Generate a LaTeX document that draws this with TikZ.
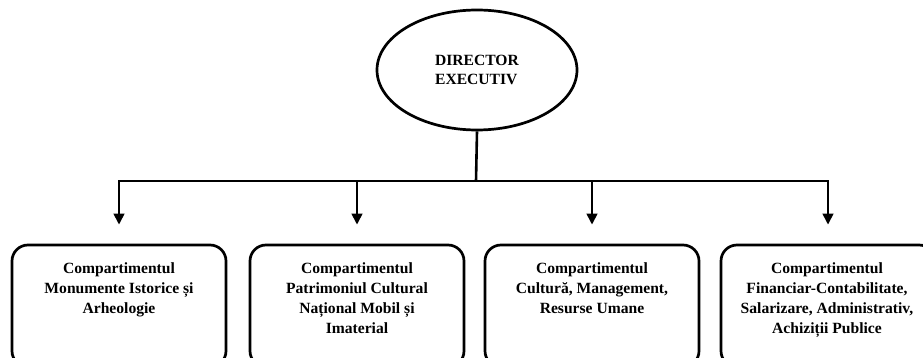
\documentclass[tikz,border=0pt]{standalone}
\usepackage{fontspec}
\setmainfont{Liberation Serif}
\usetikzlibrary{shapes.geometric,arrows.meta}
\tikzset{
  boxnode/.style={draw, line width=2.7pt, rounded corners=16pt, minimum width=214pt, minimum height=122pt, inner sep=0pt},
  boxtext/.style={align=center, font=\bfseries\fontsize{15.6}{20}\selectfont, inner sep=0pt, anchor=north},
  conn/.style={line width=2.6pt},
  arr/.style={conn, -{Triangle[length=11pt,width=10.5pt]}, shorten >=19pt}
}
\begin{document}
\begin{tikzpicture}[x=1pt,y=-1pt]
\useasboundingbox (0,0) rectangle (923,358);
\fill[white] (0,0) rectangle (923,358);
\node[draw, ellipse, line width=2.7pt, minimum width=200pt, minimum height=120pt, inner sep=0pt,
      align=left, font=\bfseries\fontsize{15.6}{19}\selectfont] (dir) at (477,70) {DIRECTOR\\EXECUTIV};
\coordinate (jc) at (476,181);
\coordinate (j1) at (119,181);
\coordinate (j2) at (357,181);
\coordinate (j3) at (592,181);
\coordinate (j4) at (828,181);
\node[boxnode] (b1) at (119,306) {};
\node[boxnode] (b2) at (357,306) {};
\node[boxnode] (b3) at (592,306) {};
\node[boxnode] (b4) at (828,306) {};
\node[boxtext] (t1) at (119,262) {Compartimentul\\Monumente Istorice și\\Arheologie};
\node[boxtext] (t2) at (357,262) {Compartimentul\\Patrimoniul Cultural\\Național Mobil și\\Imaterial};
\node[boxtext] (t3) at (592,262) {Compartimentul\\Cultură, Management,\\Resurse Umane};
\node[boxtext] (t4) at (827,262) {Compartimentul\\Financiar-Contabilitate,\\Salarizare, Administrativ,\\Achiziții Publice};
\draw[conn] (dir.south) -- (jc);
\draw[conn, line cap=rect] (j1) -- (j4);
\draw[arr] (j1) -- (b1.north);
\draw[arr] (j2) -- (b2.north);
\draw[arr] (j3) -- (b3.north);
\draw[arr] (j4) -- (b4.north);
\end{tikzpicture}
\end{document}
